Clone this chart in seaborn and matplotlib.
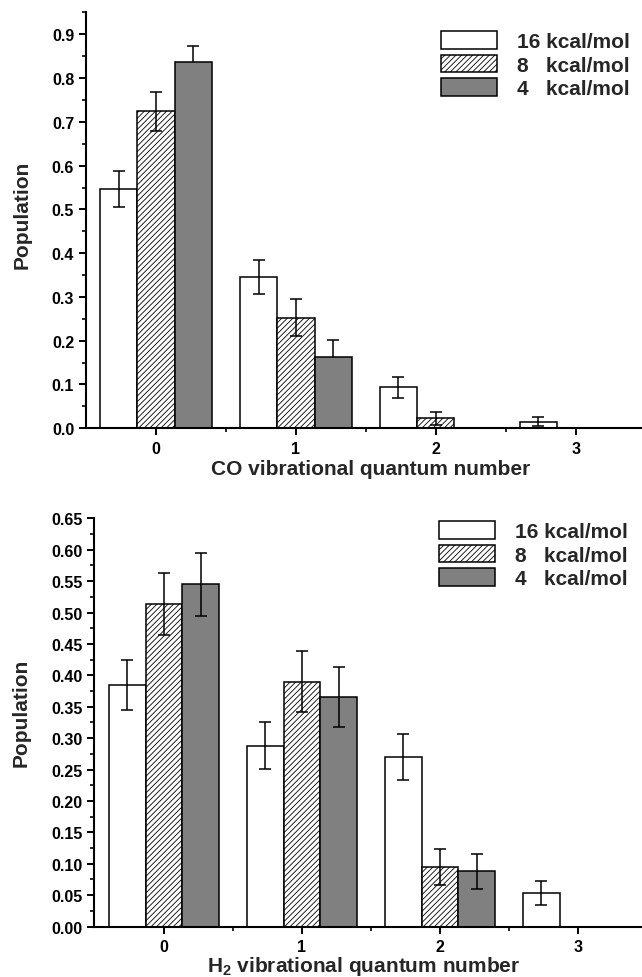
import numpy as np
import pandas as pd
import matplotlib
matplotlib.use("Agg")
import matplotlib.pyplot as plt
import seaborn as sns
from matplotlib.ticker import MultipleLocator, FixedLocator, FormatStrFormatter

# ---------------- data ----------------
levels = ["0", "1", "2", "3"]
series_labels = ["16 kcal/mol", "8   kcal/mol", "4   kcal/mol"]
series_colors = ["#ffffff", "#ffffff", "#808080"]

co_16 = [0.546, 0.345, 0.094, 0.015]
co_8 = [0.724, 0.253, 0.023, 0.0]
co_4 = [0.838, 0.163, 0.0, 0.0]
co_16_err = [0.041, 0.039, 0.024, 0.011]
co_8_err = [0.044, 0.043, 0.015, 0.0]
co_4_err = [0.036, 0.038, 0.0, 0.0]

h2_16 = [0.385, 0.288, 0.270, 0.054]
h2_8 = [0.514, 0.390, 0.095, 0.0]
h2_4 = [0.545, 0.366, 0.088, 0.0]
h2_16_err = [0.040, 0.037, 0.036, 0.019]
h2_8_err = [0.049, 0.048, 0.029, 0.0]
h2_4_err = [0.050, 0.048, 0.028, 0.0]

# ---------------- style ----------------
sns.set_style("ticks")
plt.rcParams["font.family"] = ["Liberation Sans", "DejaVu Sans"]
plt.rcParams["font.weight"] = "bold"
plt.rcParams["axes.labelweight"] = "bold"
plt.rcParams["mathtext.fontset"] = "custom"
plt.rcParams["mathtext.rm"] = "Liberation Sans:bold"
plt.rcParams["mathtext.bf"] = "Liberation Sans:bold"
plt.rcParams["hatch.linewidth"] = 0.6
plt.rcParams["hatch.color"] = "black"

fig = plt.figure(figsize=(6.42, 9.78), dpi=100)
ax1 = fig.add_axes([0.1340, 0.5611, 0.8660, 0.4251])
ax2 = fig.add_axes([0.1469, 0.0516, 0.8531, 0.4174])


def panel(ax, vals, errs, ylim, xlim, major, minor, fmt, xlabel,
          xlab_pos, ylab_pos, leg_anchor, behind):
    df = pd.DataFrame({
        "v": levels * 3,
        "series": np.repeat(series_labels, len(levels)),
        "pop": np.concatenate(vals),
    })
    sns.barplot(data=df, x="v", y="pop", hue="series", order=levels,
                hue_order=series_labels,
                palette=dict(zip(series_labels, series_colors)),
                saturation=1, edgecolor="black", linewidth=1.1,
                errorbar=None, legend=False, width=0.8, ax=ax)
    bars = list(ax.containers[:3])
    for p in bars[1]:
        p.set_hatch("//////")
    for i, cont in enumerate(bars):
        xs = np.array([p.get_x() + p.get_width() / 2 for p in cont])
        ys = np.array(vals[i])
        es = np.array(errs[i])
        m = es > 0
        ax.errorbar(xs[m], ys[m], yerr=es[m], fmt="none", ecolor="black",
                    elinewidth=1.1, capsize=4, capthick=1.1,
                    zorder=0.5 if (behind and i == 2) else 3)

    ax.set_xlim(*xlim)
    ax.set_ylim(*ylim)
    ax.yaxis.set_major_locator(MultipleLocator(major))
    ax.yaxis.set_minor_locator(MultipleLocator(minor))
    ax.yaxis.set_major_formatter(FormatStrFormatter(fmt))
    ax.xaxis.set_minor_locator(FixedLocator([0.5, 1.5, 2.5]))
    ax.tick_params(axis="both", which="major", direction="out", width=1.4,
                   labelsize=11.5, color="black", labelcolor="black")
    ax.tick_params(axis="y", which="major", length=5, pad=3.5)
    ax.tick_params(axis="x", which="major", length=5, pad=4)
    ax.tick_params(axis="both", which="minor", direction="out", width=1.4,
                   length=3)
    for lab in ax.get_xticklabels() + ax.get_yticklabels():
        lab.set_fontweight("bold")
    for s in ["top", "right"]:
        ax.spines[s].set_visible(False)
    for s in ["left", "bottom"]:
        ax.spines[s].set_linewidth(1.5)
        ax.spines[s].set_color("black")

    ax.set_xlabel(xlabel, fontsize=15, fontweight="bold")
    ax.set_ylabel("Population", fontsize=15, fontweight="bold")
    ax.xaxis.set_label_coords(*xlab_pos)
    ax.xaxis.label.set_va("center")
    ax.yaxis.set_label_coords(*ylab_pos)
    ax.yaxis.label.set_va("center")

    ax.legend(handles=bars, labels=series_labels, loc="upper left",
              bbox_to_anchor=leg_anchor, bbox_transform=fig.transFigure,
              frameon=False, borderpad=0, borderaxespad=0,
              handlelength=2.7, handleheight=0.93, handletextpad=0.93,
              labelspacing=0.17,
              prop={"weight": "bold", "size": 15,
                    "family": ["Liberation Sans", "DejaVu Sans"]})


panel(ax1, [co_16, co_8, co_4], [co_16_err, co_8_err, co_4_err],
      ylim=(0, 0.95), xlim=(-0.5, 3.474), major=0.1, minor=0.05, fmt="%.1f",
      xlabel="CO vibrational quantum number",
      xlab_pos=(0.5126, -0.0964), ylab_pos=(-0.1151, 0.5166),
      leg_anchor=(0.6869, 0.9673), behind=True)

panel(ax2, [h2_16, h2_8, h2_4], [h2_16_err, h2_8_err, h2_4_err],
      ylim=(0, 0.65), xlim=(-0.505, 3.464), major=0.05, minor=0.025,
      fmt="%.2f",
      xlabel=r"H$_\mathbf{2}$ vibrational quantum number",
      xlab_pos=(0.4917, -0.0943), ylab_pos=(-0.134, 0.5267),
      leg_anchor=(0.6838, 0.4663), behind=False)

fig.savefig("out.png", dpi=100)
